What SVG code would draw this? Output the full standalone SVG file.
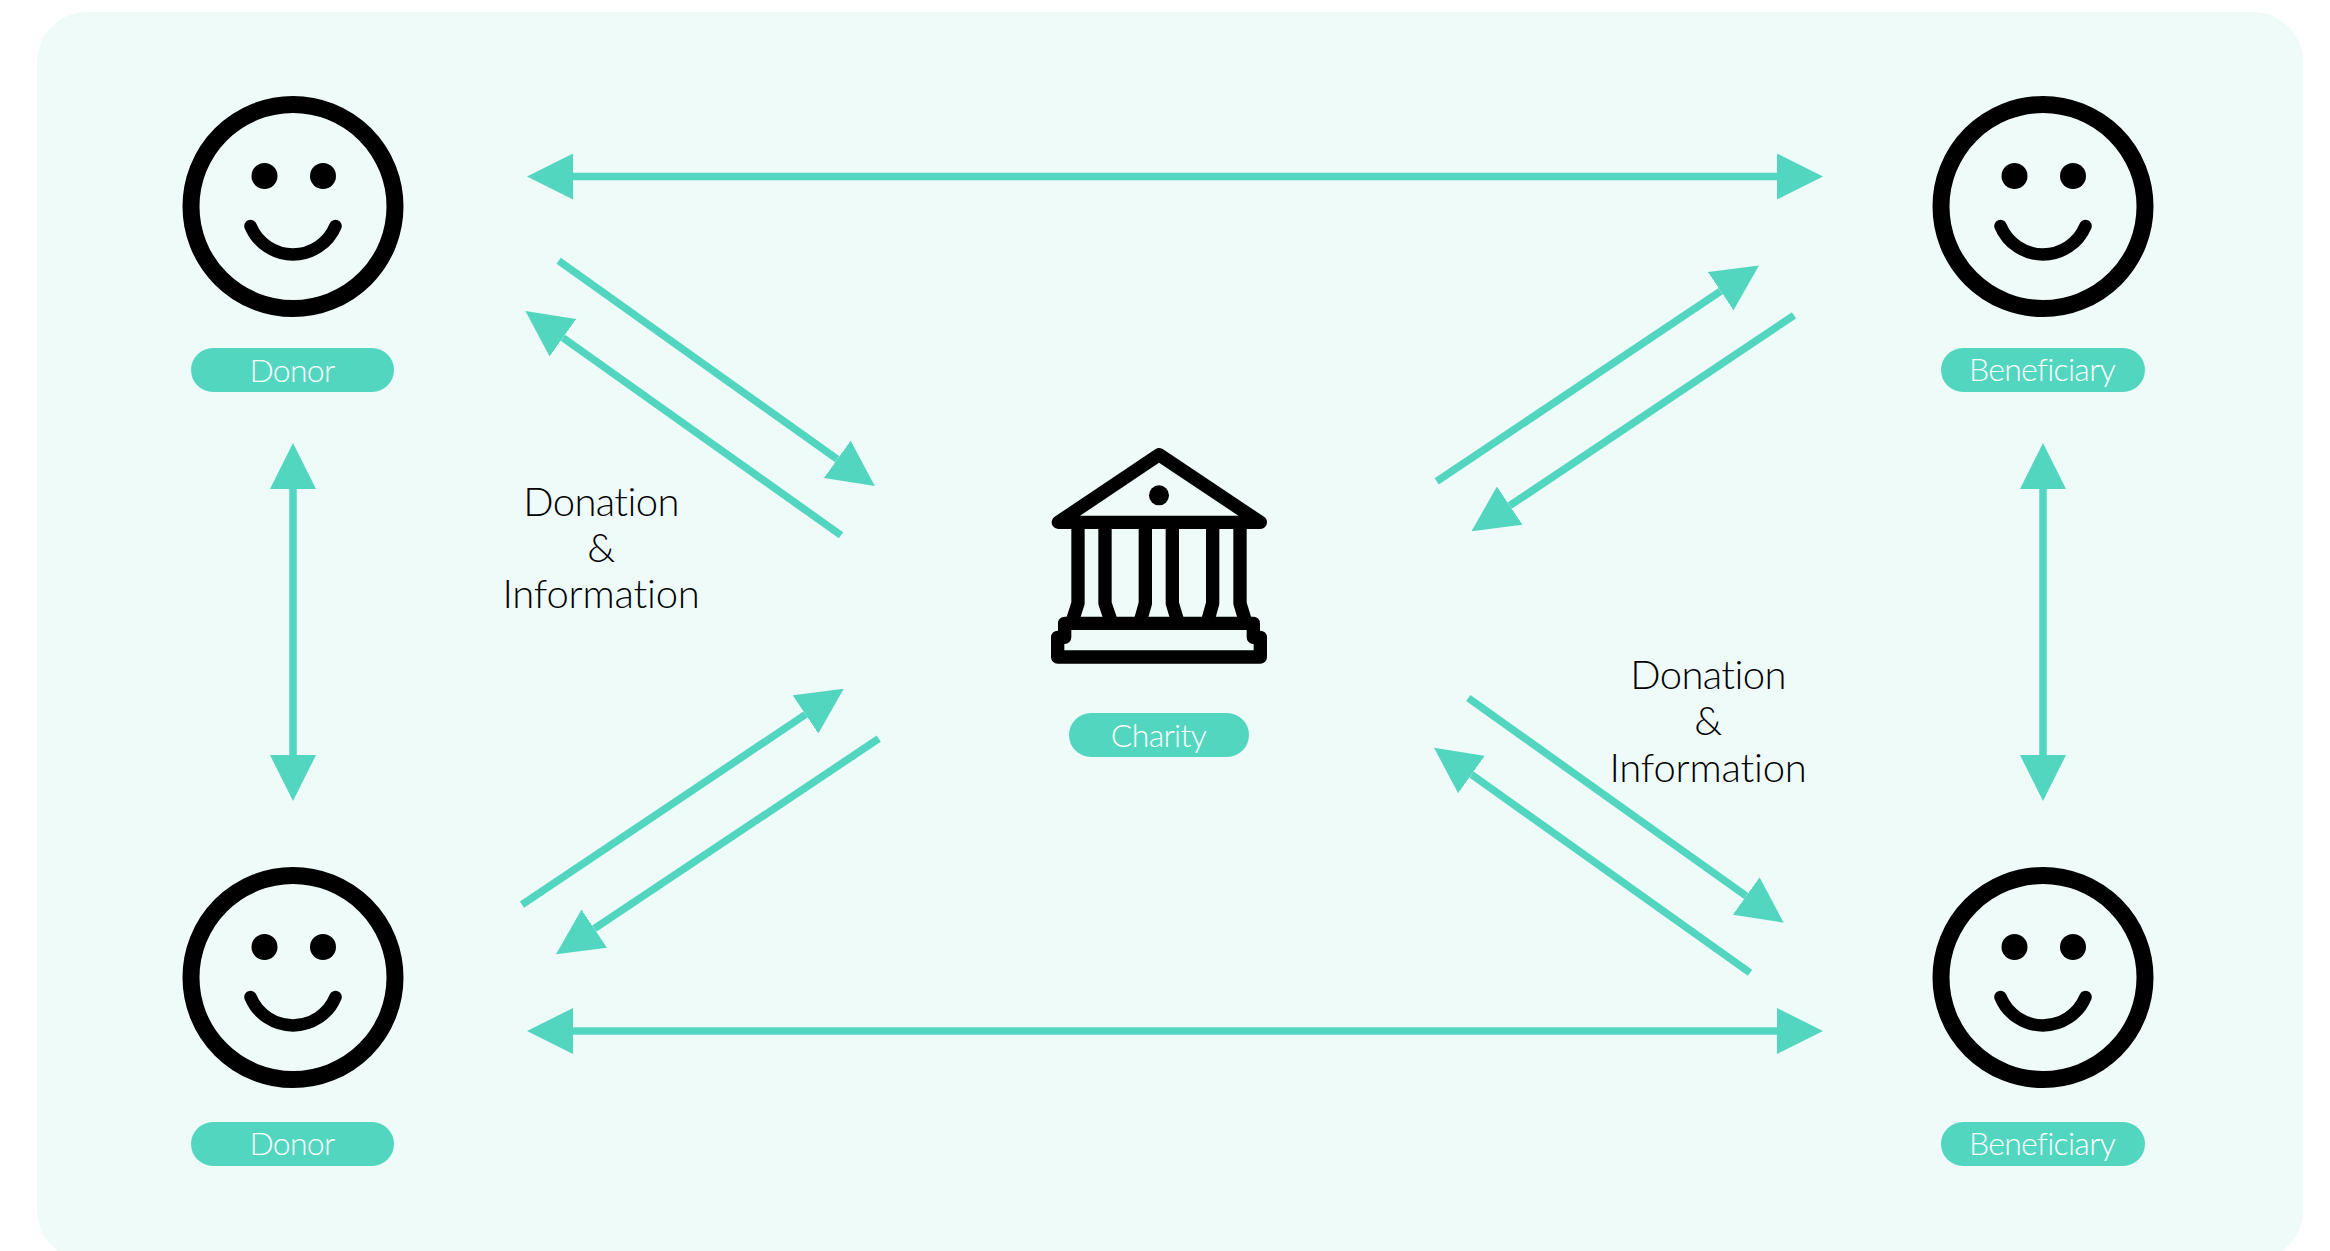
<svg xmlns="http://www.w3.org/2000/svg" xmlns:xlink="http://www.w3.org/1999/xlink" width="2330" height="1251" viewBox="0 0 2330 1251">
<style>
.bg{fill:#eefbf9}
.pill{fill:#52d6c0}
.pt{fill:#fff;font-family:"Lato","Open Sans",sans-serif;font-weight:300;font-size:32px;letter-spacing:-.7px;text-anchor:middle}
.lb{fill:#000;font-family:"Lato","Open Sans",sans-serif;font-weight:300;font-size:40px;letter-spacing:-.6px;text-anchor:middle}
.wide{letter-spacing:-.2px}
.c{stroke:#52d6c0;stroke-width:7.500;fill:none}
.ln{stroke:#000;fill:none;stroke-linecap:round;stroke-linejoin:round}
</style>
<defs>
<marker id="head" viewBox="0 0 46 46" refX="0" refY="23" markerWidth="46" markerHeight="46" markerUnits="userSpaceOnUse" orient="auto-start-reverse"><path d="M0 0L46 23L0 46Z" fill="#52d6c0"/></marker>
<g id="face"><circle cx="0" cy="0" r="102" class="ln" stroke-width="17"/><circle cx="-28.500" cy="-30.500" r="13"/><circle cx="30" cy="-30.500" r="13"/><path d="M-42.500 19.500A46 46 0 0 0 42.500 19.500" class="ln" stroke-width="12.500"/></g>
</defs>
<rect class="bg" x="37" y="12" width="2266" height="1248" rx="50" ry="50"/>
<g id="connectors">
<line class="c" x1="573" y1="176.500" x2="1777" y2="176.500" marker-start="url(#head)" marker-end="url(#head)"/>
<line class="c" x1="573" y1="1031" x2="1777" y2="1031" marker-start="url(#head)" marker-end="url(#head)"/>
<line class="c" x1="293" y1="489" x2="293" y2="755" marker-start="url(#head)" marker-end="url(#head)"/>
<line class="c" x1="2043" y1="489" x2="2043" y2="755" marker-start="url(#head)" marker-end="url(#head)"/>
<line class="c" x1="558.700" y1="260.700" x2="837.300" y2="459.300" marker-end="url(#head)"/>
<line class="c" x1="841" y1="535.300" x2="562.900" y2="337.700" marker-end="url(#head)"/>
<line class="c" x1="1436.700" y1="481.300" x2="1720.700" y2="291.200" marker-end="url(#head)"/>
<line class="c" x1="1794" y1="315.300" x2="1509.700" y2="505.700" marker-end="url(#head)"/>
<line class="c" x1="522" y1="904.700" x2="805.500" y2="714.500" marker-end="url(#head)"/>
<line class="c" x1="878.700" y1="738.700" x2="594.300" y2="928.700" marker-end="url(#head)"/>
<line class="c" x1="1468.300" y1="698" x2="1746.200" y2="896" marker-end="url(#head)"/>
<line class="c" x1="1750" y1="972.700" x2="1471.500" y2="774.500" marker-end="url(#head)"/>
</g>
<g id="donor-top"><use xlink:href="#face" href="#face" x="293" y="206.500"/><rect class="pill" x="191" y="348" width="203" height="44" rx="22"/><text class="pt" x="292" y="381.500">Donor</text></g>
<g id="donor-bottom"><use xlink:href="#face" href="#face" x="293" y="977.500"/><rect class="pill" x="191" y="1122" width="203" height="44" rx="22"/><text class="pt" x="292" y="1155">Donor</text></g>
<g id="beneficiary-top"><use xlink:href="#face" href="#face" x="2043" y="206.500"/><rect class="pill" x="1941" y="348" width="204" height="44" rx="22"/><text class="pt" x="2042" y="381">Beneficiary</text></g>
<g id="beneficiary-bottom"><use xlink:href="#face" href="#face" x="2043" y="977.500"/><rect class="pill" x="1941" y="1122" width="204" height="44" rx="22"/><text class="pt" x="2042" y="1155">Beneficiary</text></g>
<g id="charity">
<g transform="translate(1000 420) scale(.33333)" class="ln" stroke-width="40">
<path d="M477 104L175 307H781Z"/>
<path d="M234 327V550L218 600M315 327V550L332 600M436 327V550L422 600M517 327V550L532 600M638 327V550L624 600M720 327V550L735 600"/>
<path d="M194 610H760V652H781V711H173V652H194Z"/>
<circle cx="477" cy="226" r="30" fill="#000" stroke="none"/>
</g>
<rect class="pill" x="1069" y="713" width="180" height="44" rx="22"/><text class="pt" x="1158.500" y="746.500">Charity</text>
</g>
<g id="label-left"><text class="lb" x="601" y="516">Donation</text><text class="lb" x="601" y="562">&amp;</text><text class="lb wide" x="601" y="608">Information</text></g>
<g id="label-right"><text class="lb" x="1708" y="689">Donation</text><text class="lb" x="1708" y="735">&amp;</text><text class="lb wide" x="1708" y="782">Information</text></g>
</svg>
